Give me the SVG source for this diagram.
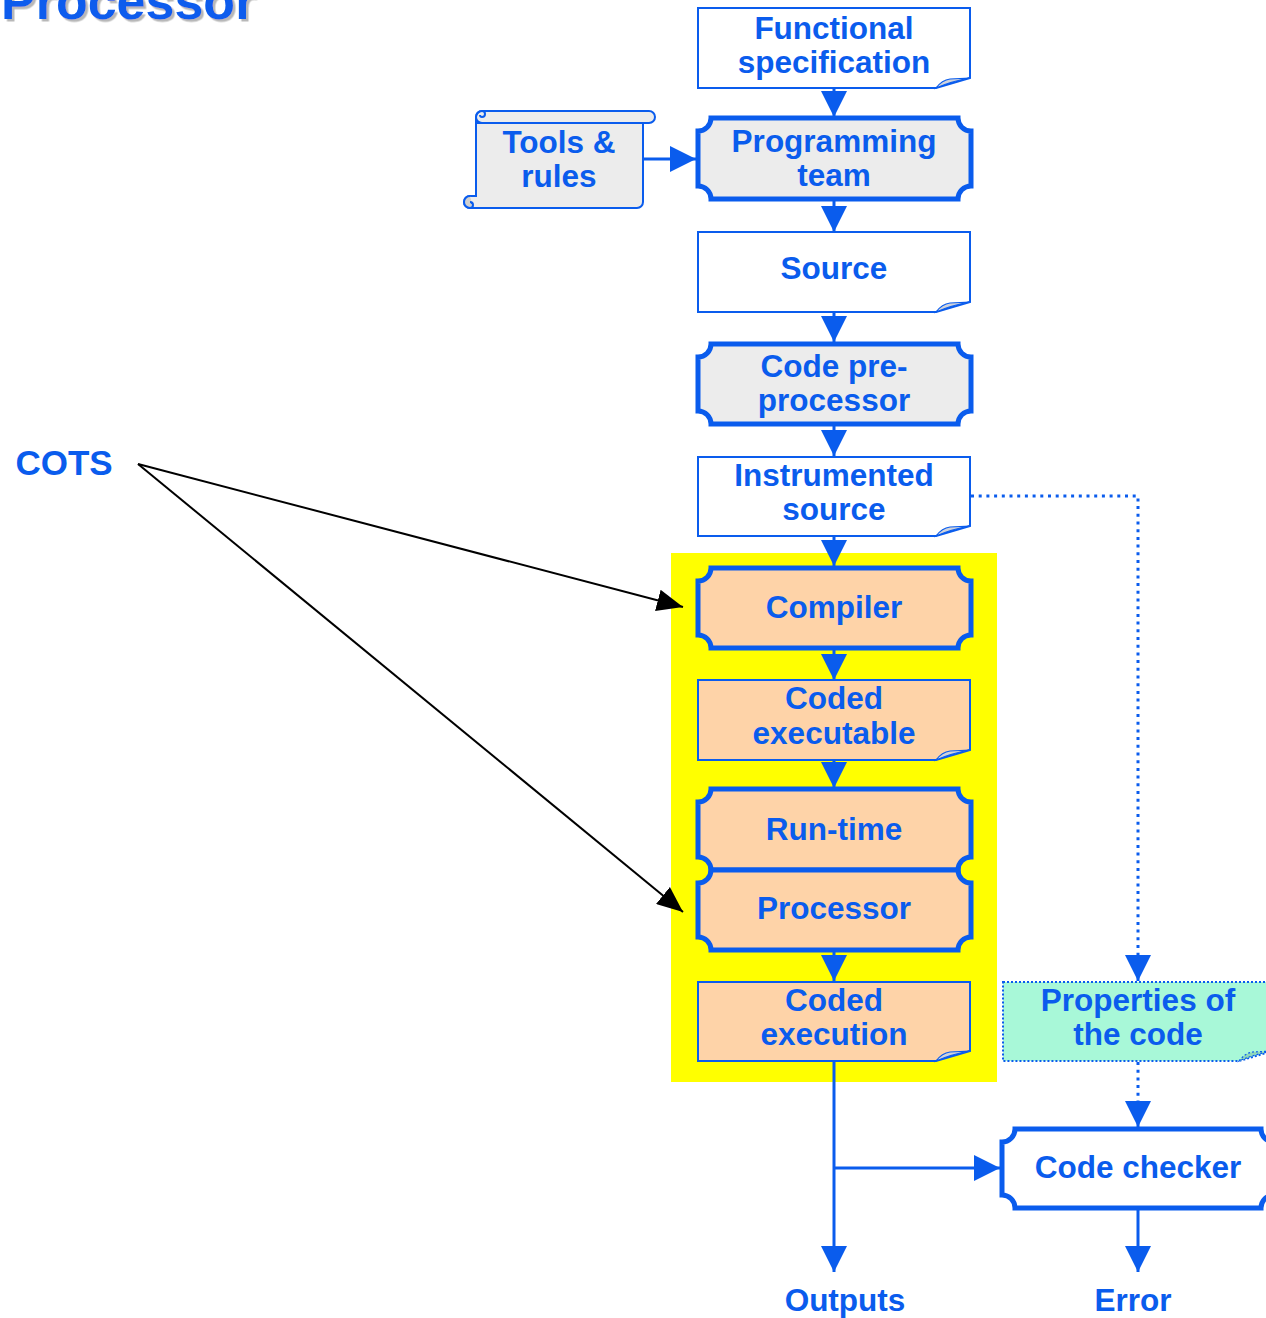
<svg xmlns="http://www.w3.org/2000/svg" width="1266" height="1318" viewBox="0 0 1266 1318">
<defs>
<style>
.t{font-family:"Liberation Sans",Arial,sans-serif;font-weight:bold;font-size:31.5px;fill:#0a5ced;text-anchor:middle}
.proc{stroke:#0a5ced;stroke-width:5;stroke-linejoin:miter}
.doc{stroke:#0a5ced;stroke-width:2}
.fold{fill:#cfd3dc;stroke:#0a5ced;stroke-width:1.2}
.con{fill:none;stroke:#0a5ced;stroke-width:3}
.dot{fill:none;stroke:#0a5ced;stroke-width:3;stroke-dasharray:3 4.7}
.blk{fill:none;stroke:#000;stroke-width:2}
</style>
<filter id="sh" x="-5%" y="-20%" width="110%" height="140%">
<feDropShadow dx="2.5" dy="2.5" stdDeviation="0.6" flood-color="#b8b8b8" flood-opacity="1"/>
</filter>
<marker id="ab" markerUnits="userSpaceOnUse" markerWidth="26" markerHeight="26" viewBox="0 0 25 25" refX="25" refY="12.5" orient="auto">
<path d="M0,0 L25,12.5 L0,25 Z" fill="#0a5ced"/>
</marker>
<marker id="ak" markerUnits="userSpaceOnUse" markerWidth="26" markerHeight="22" viewBox="0 0 26 22" refX="26" refY="11" orient="auto">
<path d="M0,0 L26,11 L0,22 Z" fill="#000"/>
</marker>
</defs>
<rect width="1266" height="1318" fill="#fff"/>
<text x="1" y="19" filter="url(#sh)" style="font-family:'Liberation Sans',Arial,sans-serif;font-weight:bold;font-size:52px;fill:#0a5ced">Processor</text>
<rect x="671" y="553" width="326" height="529" fill="#ffff00"/>
<g id="connectors">
<path class="con" d="M834,88 V117" marker-end="url(#ab)"/>
<path class="con" d="M643,159 H696" marker-end="url(#ab)"/>
<path class="con" d="M834,199 V232" marker-end="url(#ab)"/>
<path class="con" d="M834,312 V342" marker-end="url(#ab)"/>
<path class="con" d="M834,424 V456" marker-end="url(#ab)"/>
<path class="con" d="M834,536 V566" marker-end="url(#ab)"/>
<path class="con" d="M834,648 V680" marker-end="url(#ab)"/>
<path class="con" d="M834,760 V788" marker-end="url(#ab)"/>
<path class="con" d="M834,950 V981" marker-end="url(#ab)"/>
<path class="dot" d="M971,496 H1138 V958"/>
<path class="con" d="M1138,956 V981" marker-end="url(#ab)"/>
<path class="dot" d="M1138,1062 V1104"/>
<path class="con" d="M1138,1102 V1127" marker-end="url(#ab)"/>
<path class="con" d="M834,1061 V1272" marker-end="url(#ab)"/>
<path class="con" d="M834,1168 H1000" marker-end="url(#ab)"/>
<path class="con" d="M1138,1208 V1272" marker-end="url(#ab)"/>
<path class="blk" d="M138,464 L683,607" marker-end="url(#ak)"/>
<path class="blk" d="M138,464 L683,912" marker-end="url(#ak)"/>
</g>
<g id="functional-spec">
<path class="doc" fill="#fff" d="M698,8 H970 V78 L936,88 H698 Z"/>
<path class="fold" d="M936,88 Q942,80 950,79 L970,78 Q952,81 936,88 Z"/>
<text class="t" x="834" y="39">Functional</text>
<text class="t" x="834" y="73">specification</text>
</g>
<g id="tools-rules">
<path fill="#ececec" stroke="#0a5ced" stroke-width="2" d="M482,111 H649 A6,6 0 0 1 649,123 H643 V202 A6,6 0 0 1 637,208 H470 A6,6 0 0 1 470,196 H476 V117 A6,6 0 0 1 482,111 Z"/>
<path fill="none" stroke="#0a5ced" stroke-width="2" d="M476,123 H643 M482,111 A6,6 0 0 0 482,123 M482,111 a3,3 0 0 1 0,6 a2,2 0 0 1 -2,-2"/>
<path fill="#d0d0d0" stroke="#0a5ced" stroke-width="2" d="M470,196 A6,6 0 0 0 470,208 A3,3 0 0 0 470,202 A2,2 0 0 1 472,204"/>
<text class="t" x="559" y="153">Tools &amp;</text>
<text class="t" x="559" y="187">rules</text>
</g>
<g id="programming-team">
<path class="proc" fill="#ececec" d="M711,118 H958 A13,13 0 0 0 971,131 V186 A13,13 0 0 0 958,199 H711 A13,13 0 0 0 698,186 V131 A13,13 0 0 0 711,118 Z"/>
<text class="t" x="834" y="152">Programming</text>
<text class="t" x="834" y="186">team</text>
</g>
<g id="source">
<path class="doc" fill="#fff" d="M698,232 H970 V302 L936,312 H698 Z"/>
<path class="fold" d="M936,312 Q942,304 950,303 L970,302 Q952,305 936,312 Z"/>
<text class="t" x="834" y="279">Source</text>
</g>
<g id="code-preprocessor">
<path class="proc" fill="#ececec" d="M711,344 H958 A13,13 0 0 0 971,357 V411 A13,13 0 0 0 958,424 H711 A13,13 0 0 0 698,411 V357 A13,13 0 0 0 711,344 Z"/>
<text class="t" x="834" y="377">Code pre-</text>
<text class="t" x="834" y="411">processor</text>
</g>
<g id="instrumented-source">
<path class="doc" fill="#fff" d="M698,457 H970 V526 L936,536 H698 Z"/>
<path class="fold" d="M936,536 Q942,528 950,527 L970,526 Q952,529 936,536 Z"/>
<text class="t" x="834" y="486">Instrumented</text>
<text class="t" x="834" y="520">source</text>
</g>
<g id="compiler">
<path class="proc" fill="#fed3a8" d="M711,568 H958 A13,13 0 0 0 971,581 V635 A13,13 0 0 0 958,648 H711 A13,13 0 0 0 698,635 V581 A13,13 0 0 0 711,568 Z"/>
<text class="t" x="834" y="618">Compiler</text>
</g>
<g id="coded-executable">
<path class="doc" fill="#fed3a8" d="M698,680 H970 V750 L936,760 H698 Z"/>
<path class="fold" d="M936,760 Q942,752 950,751 L970,750 Q952,753 936,760 Z"/>
<text class="t" x="834" y="709">Coded</text>
<text class="t" x="834" y="744">executable</text>
</g>
<g id="run-time">
<path class="proc" fill="#fed3a8" d="M711,789 H958 A13,13 0 0 0 971,802 V857 A13,13 0 0 0 958,870 H711 A13,13 0 0 0 698,857 V802 A13,13 0 0 0 711,789 Z"/>
<text class="t" x="834" y="840">Run-time</text>
</g>
<g id="processor">
<path class="proc" fill="#fed3a8" d="M711,870 H958 A13,13 0 0 0 971,883 V937 A13,13 0 0 0 958,950 H711 A13,13 0 0 0 698,937 V883 A13,13 0 0 0 711,870 Z"/>
<text class="t" x="834" y="919">Processor</text>
</g>
<g id="coded-execution">
<path class="doc" fill="#fed3a8" d="M698,982 H970 V1051 L936,1061 H698 Z"/>
<path class="fold" d="M936,1061 Q942,1053 950,1052 L970,1051 Q952,1054 936,1061 Z"/>
<text class="t" x="834" y="1011">Coded</text>
<text class="t" x="834" y="1045">execution</text>
</g>
<g id="properties">
<path fill="#a8f8d8" stroke="#0a5ced" stroke-width="2" stroke-dasharray="2 2" d="M1003,982 H1273 V1051 L1239,1061 H1003 Z"/>
<path fill="#8fd8b8" stroke="#0a5ced" stroke-width="1.2" stroke-dasharray="2 2" d="M1239,1061 Q1245,1053 1253,1052 L1273,1051 Q1255,1054 1239,1061 Z"/>
<text class="t" x="1138" y="1011">Properties of</text>
<text class="t" x="1138" y="1045">the code</text>
</g>
<g id="code-checker">
<path class="proc" fill="#fff" d="M1015,1129 H1261 A13,13 0 0 0 1274,1142 V1195 A13,13 0 0 0 1261,1208 H1015 A13,13 0 0 0 1002,1195 V1142 A13,13 0 0 0 1015,1129 Z"/>
<text class="t" x="1138" y="1178">Code checker</text>
</g>
<g id="outputs"><text class="t" x="845" y="1311">Outputs</text></g>
<g id="error"><text class="t" x="1133" y="1311">Error</text></g>
<g id="cots"><text class="t" x="64" y="475" style="font-size:35px">COTS</text></g>
</svg>
